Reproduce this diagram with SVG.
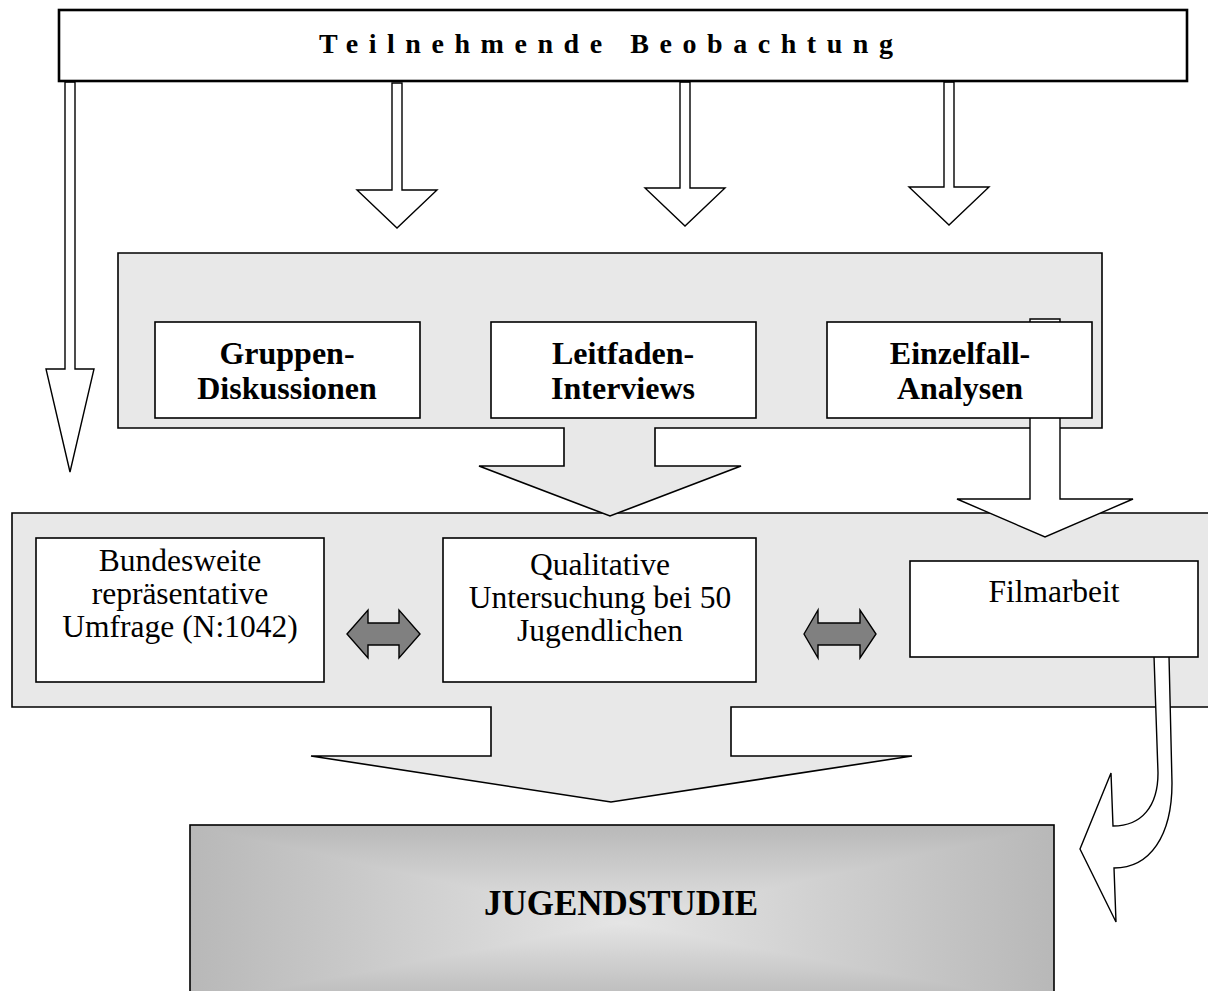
<svg xmlns="http://www.w3.org/2000/svg" width="1208" height="991" viewBox="0 0 1208 991">
  <style>
    .box { fill: #ffffff; stroke: #000000; stroke-width: 1.6; }
    .panel { fill: #e8e8e8; stroke: #000000; stroke-width: 1.6; stroke-linejoin: miter; }
    .blk { fill: #ffffff; stroke: #000000; stroke-width: 1.4; stroke-linejoin: miter; }
    .dbl { fill: #808080; stroke: #000000; stroke-width: 1.4; }
    .lbl { font-family: "Liberation Serif", "Times New Roman", serif; font-size: 31.5px; fill: #000000; text-anchor: middle; }
    .b { font-weight: bold; font-size: 32px; }
  </style>
  <defs>
    <linearGradient id="gv" x1="0" y1="0" x2="0" y2="1">
      <stop offset="0" stop-color="#b8b8b8"/>
      <stop offset="0.54" stop-color="#e5e5e5"/>
      <stop offset="1" stop-color="#b8b8b8"/>
    </linearGradient>
    <linearGradient id="gh" x1="0" y1="0" x2="1" y2="0">
      <stop offset="0" stop-color="#b8b8b8"/>
      <stop offset="0.5" stop-color="#e5e5e5"/>
      <stop offset="1" stop-color="#b8b8b8"/>
    </linearGradient>
  </defs>

  <!-- lower panel with the wide arrow into the study box -->
  <g id="panel-studies">
    <path class="panel" d="M12,513 H1214 V707 H731 V756 H912 L611,802 L311,756 H491 V707 H12 Z"/>
  </g>

  <!-- upper panel with the wide arrow into the lower panel -->
  <g id="panel-methods">
    <path class="panel" d="M118,253 H1102 V428 H655 V466 H741 L610,516 L479,466 H564 V428 H118 Z"/>
  </g>

  <g id="connectors">
    <!-- from the observation bar -->
    <path class="blk" d="M65,82 H75 V369 H94 L70,472 L46,369 H65 Z"/>
    <path class="blk" d="M392,83 H402 V190 H437 L397,228 L357,190 H392 Z"/>
    <path class="blk" d="M680,82 H690 V188 H725 L685,226 L645,188 H680 Z"/>
    <path class="blk" d="M944,82 H954 V187 H989 L949,225 L909,187 H944 Z"/>
    <!-- case analyses to film work -->
    <path class="blk" d="M1030,319 H1060 V499 H1133 L1045,537 L957,499 H1030 Z"/>
    <!-- two-way links between the studies -->
    <path class="dbl" d="M347,634 L368,610 V623 H399 V610 L420,634 L399,658 V645 H368 V658 Z"/>
    <path class="dbl" d="M804,634 L818,610 V623 H860 V610 L876,634 L860,658 V645 H818 V658 Z"/>
    <!-- curved return from film work -->
    <path class="blk" d="M1154,656 L1169,656 L1172,783 C1172,836 1150,868 1114,868 L1116,922 L1080,849 L1111,773 L1113,826 C1142,826 1158,806 1158,773 Z"/>
  </g>

  <g id="observation">
    <rect x="59" y="10" width="1128" height="71" fill="#ffffff" stroke="#000000" stroke-width="2.6"/>
    <text class="lbl b" x="319" y="53" style="font-size:28px;text-anchor:start" textLength="574" lengthAdjust="spacing">Teilnehmende Beobachtung</text>
  </g>

  <g id="group-discussions">
    <rect class="box" x="155" y="322" width="265" height="96"/>
    <text class="lbl b" x="287" y="364">Gruppen-</text>
    <text class="lbl b" x="287" y="399">Diskussionen</text>
  </g>

  <g id="guided-interviews">
    <rect class="box" x="491" y="322" width="265" height="96"/>
    <text class="lbl b" x="623" y="364">Leitfaden-</text>
    <text class="lbl b" x="623" y="399">Interviews</text>
  </g>

  <g id="case-analyses">
    <rect class="box" x="827" y="322" width="265" height="96"/>
    <text class="lbl b" x="960" y="364">Einzelfall-</text>
    <text class="lbl b" x="960" y="399">Analysen</text>
  </g>

  <g id="survey">
    <rect class="box" x="36" y="538" width="288" height="144"/>
    <text class="lbl" x="180" y="571">Bundesweite</text>
    <text class="lbl" x="180" y="604">repräsentative</text>
    <text class="lbl" x="180" y="637">Umfrage (N:1042)</text>
  </g>

  <g id="qualitative">
    <rect class="box" x="443" y="538" width="313" height="144"/>
    <text class="lbl" x="600" y="575">Qualitative</text>
    <text class="lbl" x="600" y="608">Untersuchung bei 50</text>
    <text class="lbl" x="600" y="641">Jugendlichen</text>
  </g>

  <g id="film-work">
    <rect class="box" x="910" y="561" width="288" height="96"/>
    <text class="lbl" x="1054" y="602">Filmarbeit</text>
  </g>

  <g id="youth-study">
    <g style="isolation:isolate">
      <rect x="190" y="825" width="864" height="180" fill="url(#gv)"/>
      <rect x="190" y="825" width="864" height="180" fill="url(#gh)" style="mix-blend-mode:darken"/>
    </g>
    <rect x="190" y="825" width="864" height="180" fill="none" stroke="#000000" stroke-width="1.6"/>
    <text class="lbl b" x="621" y="915" style="font-size:35px">JUGENDSTUDIE</text>
  </g>
</svg>
